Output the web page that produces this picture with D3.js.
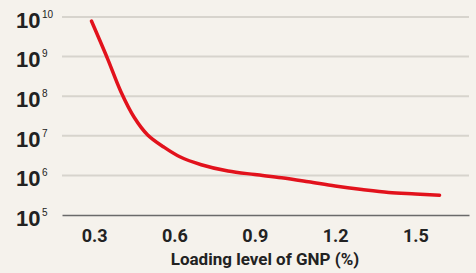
<!DOCTYPE html>
<html>
<head>
<meta charset="utf-8">
<script src="https://cdn.jsdelivr.net/npm/d3@7"></script>
<style>
  html, body { margin: 0; padding: 0; background: #f5f2ec; }
  svg { display: block; }
</style>
</head>
<body>
<svg id="chart-svg"></svg>
<script>
// values
const loading = [0.29, 0.35, 0.40, 0.45, 0.50, 0.56, 0.62, 0.70, 0.80, 0.90, 1.00, 1.10, 1.20, 1.30, 1.40, 1.50, 1.59];
const cycles = [7.9e9, 8.9e8, 1.3e8, 2.9e7, 1.05e7, 5.2e6, 2.95e6, 1.86e6, 1.29e6, 1.05e6, 8.7e5, 6.9e5, 5.4e5, 4.4e5, 3.7e5, 3.4e5, 3.15e5];
const xTicks = [0.3, 0.6, 0.9, 1.2, 1.5];
const yTicks = [1e5, 1e6, 1e7, 1e8, 1e9, 1e10];
const xLabel = "Loading level of GNP (%)";

const width = 476;
const height = 273;

const svg = d3.select("#chart-svg")
    .attr("width", width)
    .attr("height", height);

svg.append("rect")
    .attr("width", width)
    .attr("height", height)
    .attr("fill", "#f5f2ec");

const plot = { left: 62, right: 469, top: 17, bottom: 215 };

const xScale = d3.scaleLinear()
    .domain([0.18, 1.7])
    .range([plot.left, plot.right]);

const yScale = d3.scaleLog()
    .domain([1e5, 1e10])
    .range([plot.bottom, plot.top]);

// gridlines
svg.append("g")
    .selectAll("line")
    .data(yTicks.filter(d => d > 1e5))
    .join("line")
    .attr("x1", plot.left)
    .attr("x2", plot.right)
    .attr("y1", d => yScale(d))
    .attr("y2", d => yScale(d))
    .attr("stroke", "#d7d4cd")
    .attr("stroke-width", 2);

// y labels: 10 with superscript exponent
const yLab = svg.append("g")
    .selectAll("text")
    .data(yTicks)
    .join("text")
    .attr("x", 16)
    .attr("y", d => yScale(d) + 10.7)
    .style("font-family", "'Liberation Sans', Arial, sans-serif")
    .style("font-weight", "bold")
    .style("font-size", "22px")
    .style("fill", "#222");

yLab.append("tspan").text("10");
yLab.append("tspan")
    .attr("dx", 1.5)
    .attr("dy", -10)
    .style("font-size", "10px")
    .style("font-weight", "normal")
    .text(d => Math.round(Math.log10(d)));

// x axis
const xAxis = svg.append("g")
    .attr("transform", `translate(0,${plot.bottom})`)
    .call(d3.axisBottom(xScale)
        .tickValues(xTicks)
        .tickSize(0)
        .tickPadding(14)
        .tickFormat(d3.format(".1f")));

xAxis.select(".domain")
    .attr("stroke", "#6a6a6a")
    .attr("stroke-width", 1.6);

xAxis.selectAll("text")
    .style("font-family", "Roboto, sans-serif")
    .style("font-weight", "bold")
    .style("font-size", "18px")
    .style("fill", "#222");

svg.append("text")
    .attr("x", 265)
    .attr("y", 265)
    .attr("text-anchor", "middle")
    .style("font-family", "Roboto, sans-serif")
    .style("font-weight", "bold")
    .style("font-size", "17px")
    .style("fill", "#222")
    .text(xLabel);

// curve
const line = d3.line()
    .x((d, i) => xScale(loading[i]))
    .y(d => yScale(d))
    .curve(d3.curveCatmullRom.alpha(0.5));

svg.append("path")
    .datum(cycles)
    .attr("d", line)
    .attr("fill", "none")
    .attr("stroke", "#e2121c")
    .attr("stroke-width", 3.5)
    .attr("stroke-linecap", "round");
</script>
</body>
</html>
